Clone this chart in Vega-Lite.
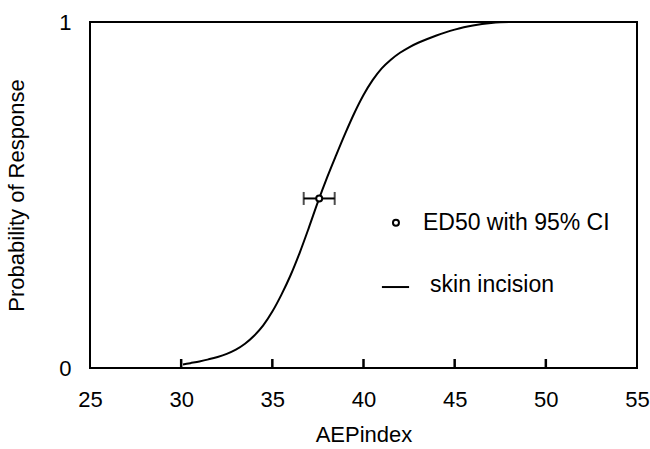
{
  "$schema": "https://vega.github.io/schema/vega-lite/v6.json",
  "autosize": "none",
  "width": 547,
  "height": 346,
  "padding": {"left": 90, "top": 22, "right": 13, "bottom": 81},
  "background": "white",
  "config": {
    "view": {"stroke": "black", "strokeWidth": 2},
    "font": "Liberation Sans",
    "axis": {"labelFont": "Liberation Sans", "titleFont": "Liberation Sans", "labelColor": "black", "titleColor": "black", "grid": false, "domain": false, "titleFontWeight": "normal"}
  },
  "datasets": {
    "curve": [
      {"x": 30.1, "p": 0.010},
      {"x": 30.5, "p": 0.014},
      {"x": 31.0, "p": 0.019},
      {"x": 31.5, "p": 0.025},
      {"x": 32.0, "p": 0.032},
      {"x": 32.5, "p": 0.041},
      {"x": 33.0, "p": 0.053},
      {"x": 33.5, "p": 0.070},
      {"x": 34.0, "p": 0.093},
      {"x": 34.5, "p": 0.123},
      {"x": 35.0, "p": 0.163},
      {"x": 35.5, "p": 0.212},
      {"x": 36.0, "p": 0.268},
      {"x": 36.5, "p": 0.333},
      {"x": 37.0, "p": 0.405},
      {"x": 37.5, "p": 0.480},
      {"x": 38.0, "p": 0.550},
      {"x": 38.5, "p": 0.615},
      {"x": 39.0, "p": 0.678},
      {"x": 39.5, "p": 0.737},
      {"x": 40.0, "p": 0.789},
      {"x": 40.5, "p": 0.832},
      {"x": 41.0, "p": 0.866},
      {"x": 41.5, "p": 0.891},
      {"x": 42.0, "p": 0.911},
      {"x": 42.5, "p": 0.927},
      {"x": 43.0, "p": 0.940},
      {"x": 43.5, "p": 0.951},
      {"x": 44.0, "p": 0.961},
      {"x": 44.5, "p": 0.970},
      {"x": 45.0, "p": 0.978},
      {"x": 45.5, "p": 0.985},
      {"x": 46.0, "p": 0.990},
      {"x": 46.5, "p": 0.994},
      {"x": 47.0, "p": 0.997},
      {"x": 47.5, "p": 0.999},
      {"x": 48.0, "p": 1.0},
      {"x": 55.0, "p": 1.0}
    ],
    "ed50": [
      {"ed50": 37.57, "lo": 36.72, "hi": 38.42, "p": 0.49}
    ],
    "tickvals": [
      {"tv": 30}, {"tv": 35}, {"tv": 40}, {"tv": 45}, {"tv": 50}
    ],
    "legendPoint": [{"label": "ED50 with 95% CI"}],
    "legendLine": [{"label": "skin incision"}]
  },
  "layer": [
    {
      "data": {"name": "curve"},
      "mark": {"type": "line", "color": "black", "strokeWidth": 2, "interpolate": "monotone"},
      "encoding": {
        "x": {"field": "x", "type": "quantitative",
              "scale": {"domain": [25, 55], "nice": false, "zero": false},
              "axis": {"title": "AEPindex", "values": [25, 30, 35, 40, 45, 50, 55], "ticks": false,
                       "labelFontSize": 22, "labelPadding": 21, "titleFontSize": 22, "titlePadding": 14, "labelFlush": false}},
        "y": {"field": "p", "type": "quantitative",
              "scale": {"domain": [0, 1], "nice": false},
              "axis": {"title": "Probability of Response", "values": [0, 1], "format": ".0f", "ticks": false,
                       "labelFontSize": 22, "labelPadding": 19, "titleFontSize": 22, "titlePadding": 30, "labelFlush": false}}
      }
    },
    {
      "data": {"name": "tickvals"},
      "mark": {"type": "rule", "color": "black", "strokeWidth": 2.5},
      "encoding": {
        "x": {"field": "tv", "type": "quantitative"},
        "y": {"datum": 0, "type": "quantitative"},
        "y2": {"datum": 0.026}
      }
    },
    {
      "data": {"name": "ed50"},
      "mark": {"type": "rule", "color": "black", "strokeWidth": 2},
      "encoding": {
        "x": {"field": "lo", "type": "quantitative"},
        "x2": {"field": "hi"},
        "y": {"field": "p", "type": "quantitative"}
      }
    },
    {
      "data": {"name": "ed50"},
      "mark": {"type": "tick", "orient": "vertical", "color": "black", "size": 13, "thickness": 2},
      "encoding": {
        "x": {"field": "lo", "type": "quantitative"},
        "y": {"field": "p", "type": "quantitative"}
      }
    },
    {
      "data": {"name": "ed50"},
      "mark": {"type": "tick", "orient": "vertical", "color": "black", "size": 13, "thickness": 2},
      "encoding": {
        "x": {"field": "hi", "type": "quantitative"},
        "y": {"field": "p", "type": "quantitative"}
      }
    },
    {
      "data": {"name": "ed50"},
      "mark": {"type": "point", "shape": "circle", "filled": true, "fill": "white", "stroke": "black", "strokeWidth": 2, "size": 36, "opacity": 1},
      "encoding": {
        "x": {"field": "ed50", "type": "quantitative"},
        "y": {"field": "p", "type": "quantitative"}
      }
    },
    {
      "data": {"name": "legendPoint"},
      "mark": {"type": "point", "shape": "circle", "filled": true, "fill": "white", "stroke": "black", "strokeWidth": 2, "size": 36, "opacity": 1},
      "encoding": {
        "x": {"datum": 41.78, "type": "quantitative"},
        "y": {"datum": 0.42, "type": "quantitative"}
      }
    },
    {
      "data": {"name": "legendPoint"},
      "mark": {"type": "text", "align": "left", "baseline": "middle", "font": "Liberation Sans", "fontSize": 23, "color": "black"},
      "encoding": {
        "x": {"datum": 43.26, "type": "quantitative"},
        "y": {"datum": 0.42, "type": "quantitative"},
        "text": {"field": "label"}
      }
    },
    {
      "data": {"name": "legendLine"},
      "mark": {"type": "rule", "color": "black", "strokeWidth": 2},
      "encoding": {
        "x": {"datum": 41.01, "type": "quantitative"},
        "x2": {"datum": 42.5},
        "y": {"datum": 0.234, "type": "quantitative"}
      }
    },
    {
      "data": {"name": "legendLine"},
      "mark": {"type": "text", "align": "left", "baseline": "middle", "font": "Liberation Sans", "fontSize": 23, "color": "black"},
      "encoding": {
        "x": {"datum": 43.65, "type": "quantitative"},
        "y": {"datum": 0.24, "type": "quantitative"},
        "text": {"field": "label"}
      }
    }
  ]
}
